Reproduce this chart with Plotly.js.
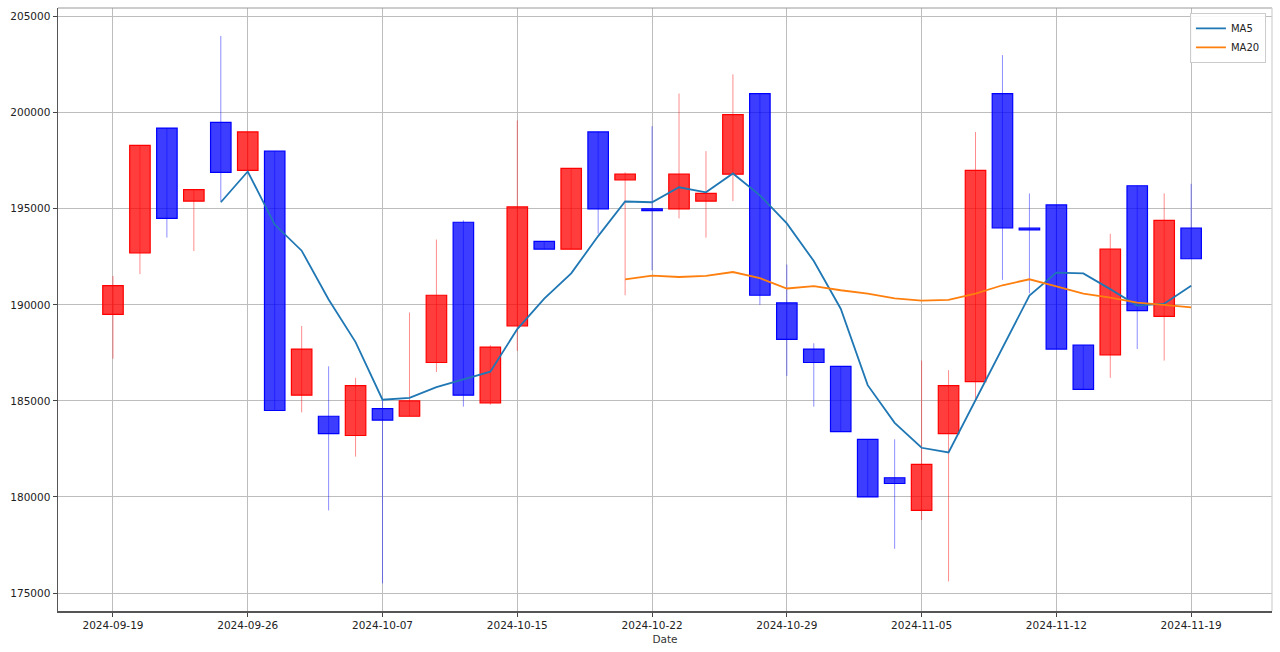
<!DOCTYPE html>
<html>
<head>
<meta charset="utf-8">
<script src="https://cdn.plot.ly/plotly-3.0.1.min.js"></script>
<style>
html,body{margin:0;padding:0;background:#fff;}
#chart{width:1280px;height:652px;}
</style>
</head>
<body>
<div id="chart"></div>
<script>
// ---- data ----
var dates = ['2024-09-19','2024-09-20','2024-09-23','2024-09-24','2024-09-25','2024-09-26','2024-09-27','2024-09-30',
  '2024-10-02','2024-10-04','2024-10-07','2024-10-08','2024-10-10','2024-10-11','2024-10-14','2024-10-15',
  '2024-10-16','2024-10-17','2024-10-18','2024-10-21','2024-10-22','2024-10-23','2024-10-24','2024-10-25',
  '2024-10-28','2024-10-29','2024-10-30','2024-10-31','2024-11-01','2024-11-04','2024-11-05','2024-11-06',
  '2024-11-07','2024-11-08','2024-11-11','2024-11-12','2024-11-13','2024-11-14','2024-11-15','2024-11-18','2024-11-19'];

var openP  = [189500,192700,199200,195400,199500,197000,198000,185300,184200,183200,184600,184200,187000,194300,184900,188900,
  193300,192900,199000,196500,195000,195000,195400,196800,201000,190100,187700,186800,183000,181000,179300,183300,
  186000,201000,194000,195200,187900,187400,196200,189400,194000];
var highP  = [191500,198300,199200,196000,204000,199000,198000,188900,186800,186200,185100,189600,193400,194400,187900,199600,
  193300,197100,199000,196900,199300,201000,198000,202000,201000,192100,188000,186800,183000,183000,187100,186600,
  199000,203000,195800,195200,187900,193700,196200,195800,196300];
var lowP   = [187200,191600,193500,192800,195400,197000,184500,184400,179300,182100,175500,184200,186500,184700,184800,187600,
  192900,192900,193700,190500,191800,194500,193500,195400,190000,186300,184700,183400,180000,177300,178800,175600,
  185000,191300,190600,187700,185600,186200,187700,187100,192400];
var closeP = [191000,198300,194500,196000,196900,199000,184500,187700,183300,185800,184000,185000,190500,185300,187800,195100,
  192900,197100,195000,196800,194900,196800,195800,199900,190500,188200,187000,183400,180000,180700,181700,185800,
  197000,194000,193900,187700,185600,192900,189700,194400,192400];

var ma5 = [null,null,null,null,195340,196940,194180,192820,190280,188060,185060,185160,185720,186120,186520,188740,
  190320,191640,193580,195380,195340,196120,195860,196840,195700,194240,192280,189800,185820,183860,182560,182320,
  185040,187840,190480,191680,191640,190820,189960,190060,191000];
var ma20 = [null,null,null,null,null,null,null,null,null,null,null,null,null,null,null,null,
  null,null,null,191330,191520,191450,191510,191710,191390,190850,190970,190760,190590,190340,190220,190260,
  190590,191020,191330,190960,190590,190380,190120,190000,189870];

var yTicks = [175000,180000,185000,190000,195000,200000,205000];
var xTickDates = ['2024-09-19','2024-09-26','2024-10-07','2024-10-15','2024-10-22','2024-10-29','2024-11-05','2024-11-12','2024-11-19'];

// ---- build traces ----
var upFill = 'rgba(255,0,0,0.76)', upEdge = '#ff0000', upWick = 'rgba(255,0,0,0.45)';
var dnFill = 'rgba(0,0,255,0.76)', dnEdge = '#0000ff', dnWick = 'rgba(0,0,255,0.45)';

var base = [], height = [], fills = [], edges = [];
var wUpX = [], wUpY = [], wDnX = [], wDnY = [];
for (var i = 0; i < dates.length; i++) {
  var up = closeP[i] >= openP[i];
  base.push(Math.min(openP[i], closeP[i]));
  height.push(Math.abs(closeP[i] - openP[i]));
  fills.push(up ? upFill : dnFill);
  edges.push(up ? upEdge : dnEdge);
  if (up) { wUpX.push(dates[i], dates[i], null); wUpY.push(lowP[i], highP[i], null); }
  else    { wDnX.push(dates[i], dates[i], null); wDnY.push(lowP[i], highP[i], null); }
}

var traces = [
  {type:'bar', x:dates, y:height, base:base, width:0.76,
   marker:{color:fills, line:{color:edges, width:1.2}},
   showlegend:false, hoverinfo:'skip'},
  {type:'scatter', mode:'lines', x:wUpX, y:wUpY, line:{color:upWick, width:1},
   showlegend:false, hoverinfo:'skip', connectgaps:false},
  {type:'scatter', mode:'lines', x:wDnX, y:wDnY, line:{color:dnWick, width:1},
   showlegend:false, hoverinfo:'skip', connectgaps:false},
  {type:'scatter', mode:'lines', name:'MA5', x:dates, y:ma5, line:{color:'#1f77b4', width:1.8}},
  {type:'scatter', mode:'lines', name:'MA20', x:dates, y:ma20, line:{color:'#ff7f0e', width:1.8}}
];

var tickFont = {family:'DejaVu Sans, sans-serif', size:10.5, color:'#222'};
var gridC = '#bdbdbd';

var layout = {
  width:1280, height:652, autosize:false,
  paper_bgcolor:'#ffffff', plot_bgcolor:'#ffffff',
  margin:{l:58, r:8, t:8, b:41, pad:0},
  font:{family:'DejaVu Sans, sans-serif', size:10.5, color:'#222'},
  xaxis:{type:'category', categoryorder:'array', categoryarray:dates,
    range:[-2.04, 43.0], tickmode:'array', tickvals:xTickDates, ticktext:xTickDates,
    ticks:'outside', ticklen:4, tickwidth:1, tickcolor:'#444',
    showgrid:true, gridcolor:gridC, gridwidth:1,
    showline:true, linecolor:'#555', linewidth:1.5, zeroline:false,
    tickfont:tickFont, tickangle:0,
    title:{text:'Date', font:{family:'DejaVu Sans, sans-serif', size:10.5, color:'#333'}, standoff:5}},
  yaxis:{range:[174063, 205453], tickmode:'array', tickvals:yTicks, tickformat:'d',
    ticks:'outside', ticklen:4, tickwidth:1, tickcolor:'#444',
    showgrid:true, gridcolor:gridC, gridwidth:1,
    showline:true, linecolor:'#555', linewidth:1.5, zeroline:false,
    tickfont:tickFont},
  shapes:[
    {type:'line', xref:'paper', yref:'paper', x0:0, x1:1, y0:1, y1:1, line:{color:'#9a9a9a', width:1.2}},
    {type:'line', xref:'paper', yref:'paper', x0:1, x1:1, y0:0, y1:1, line:{color:'#d0d0d0', width:1.2}}
  ],
  legend:{x:0.995, y:0.992, xanchor:'right', yanchor:'top',
    bgcolor:'rgba(255,255,255,0.9)', bordercolor:'#cccccc', borderwidth:1,
    font:{family:'DejaVu Sans, sans-serif', size:10, color:'#222'},
    itemwidth:30, tracegroupgap:0},
  bargap:0, showlegend:true
};

Plotly.newPlot('chart', traces, layout, {displayModeBar:false, staticPlot:true});
</script>
</body>
</html>
